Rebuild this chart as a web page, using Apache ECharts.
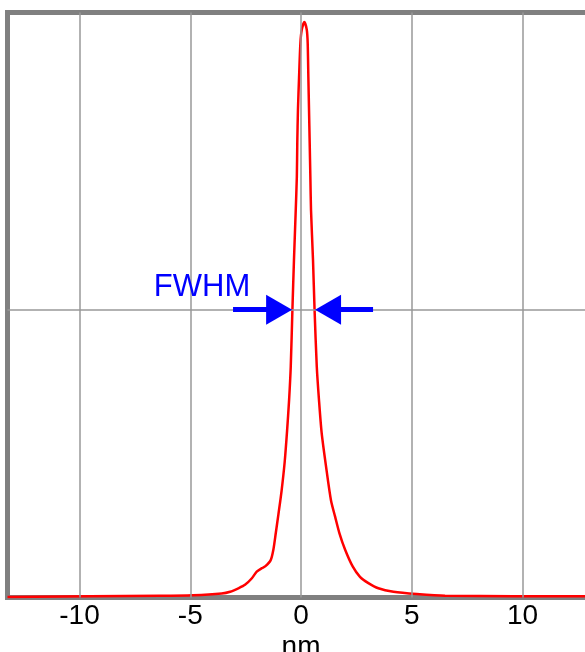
<!DOCTYPE html>
<html>
<head>
<meta charset="utf-8">
<script src="https://cdn.jsdelivr.net/npm/echarts@6/dist/echarts.min.js"></script>
<style>
html,body{margin:0;padding:0;background:#fff;}
#main{width:585px;height:652px;}
</style>
</head>
<body>
<div id="main"></div>
<script>
// spectrum, x in nm, y normalised to the peak
var waveNm = [-13.25, -6.36, -4.87, -3.58, -3.20, -2.83, -2.53, -2.23, -2.00, -1.77, -1.62, -1.37, -1.25,
    -1.14, -1.02, -0.88, -0.74, -0.63, -0.54, -0.465, -0.39, -0.32, -0.24, -0.19, -0.17, -0.14, -0.09,
    -0.03, 0.03, 0.15, 0.26, 0.30, 0.33, 0.36, 0.39, 0.42, 0.45, 0.54, 0.61, 0.71, 0.81, 0.93, 1.13,
    1.35, 1.54, 1.73, 1.99, 2.33, 2.66, 3.04, 3.49, 4.17, 5.22, 6.50, 13.25];
var intensity = [0.001, 0.003, 0.004, 0.007, 0.010, 0.016, 0.022, 0.033, 0.045, 0.051, 0.054, 0.065, 0.083,
    0.112, 0.145, 0.185, 0.235, 0.290, 0.343, 0.401, 0.500, 0.586, 0.673, 0.731, 0.790, 0.847, 0.904,
    0.963, 0.986, 1.0, 0.986, 0.963, 0.904, 0.847, 0.790, 0.731, 0.673, 0.586, 0.500, 0.401, 0.343, 0.286, 0.227,
    0.169, 0.140, 0.112, 0.083, 0.054, 0.036, 0.025, 0.016, 0.010, 0.006, 0.003, 0.002];
var tickLabels = [-10, -5, 0, 5, 10];
var halfMax = 0.5;
// FWHM arrows: [tail, head] in nm
var arrowLeft = [-3.07, -0.99];
var arrowRight = [3.25, 1.22];
var fwhmText = 'FWHM';
var fwhmPos = [-4.47, 0.538];

var curve = [];
for (var i = 0; i < waveNm.length; i++) curve.push([waveNm[i], intensity[i]]);

var gridLines = [];
for (var j = 0; j < tickLabels.length; j++) gridLines.push({xAxis: tickLabels[j]});
gridLines.push({yAxis: halfMax});

var myChart = echarts.init(document.getElementById('main'));
var option = {
    animation: false,
    textStyle: {fontFamily: 'Liberation Sans, Arial, sans-serif'},
    grid: {
        left: 7.5, top: 12.5, right: -9.6, bottom: 54.5,
        outerBoundsMode: 'none', containLabel: false,
        show: true, borderColor: '#808080', borderWidth: 5, backgroundColor: 'transparent'
    },
    xAxis: {
        type: 'value', min: -13.25, max: 13.25,
        name: 'nm', nameLocation: 'middle', nameGap: 36, nameMoveOverlap: false,
        nameTextStyle: {fontSize: 28, color: '#000', fontFamily: 'Liberation Sans'},
        axisLine: {show: false}, axisTick: {show: false}, splitLine: {show: false},
        axisLabel: {customValues: tickLabels, fontSize: 28, color: '#000', margin: 5, fontFamily: 'Liberation Sans'}
    },
    yAxis: {
        type: 'value', min: 0, max: 1.0165,
        axisLine: {show: false}, axisTick: {show: false}, splitLine: {show: false}, axisLabel: {show: false}
    },
    series: [
        {
            type: 'line', data: [], z: 1, silent: true,
            markLine: {
                silent: true, symbol: 'none', animation: false,
                label: {show: false},
                lineStyle: {color: '#999', width: 1.5, type: 'solid'},
                emphasis: {disabled: true},
                data: gridLines
            }
        },
        {
            type: 'line', data: curve, z: 3, showSymbol: false, smooth: 0.25,
            lineStyle: {color: '#ff0000', width: 2.5}
        },
        {
            type: 'line', data: [], z: 4, silent: true,
            markLine: {
                silent: true, animation: false,
                symbol: ['none', 'triangle'], symbolSize: [30, 26],
                label: {show: false},
                lineStyle: {color: '#0000ff', width: 5, type: 'solid', opacity: 1},
                itemStyle: {color: '#0000ff'},
                emphasis: {disabled: true},
                data: [
                    [{coord: [arrowLeft[0], halfMax]}, {coord: [arrowLeft[1], halfMax]}],
                    [{coord: [arrowRight[0], halfMax]}, {coord: [arrowRight[1], halfMax]}]
                ]
            },
            markPoint: {
                silent: true, symbol: 'circle', symbolSize: 0,
                label: {show: true, position: 'inside', formatter: fwhmText, color: '#0000ff', fontSize: 31, fontFamily: 'Liberation Sans'},
                data: [{coord: fwhmPos}]
            }
        }
    ]
};
if (option && typeof option === "object") {
    myChart.setOption(option, true);
}
</script>
</body>
</html>
